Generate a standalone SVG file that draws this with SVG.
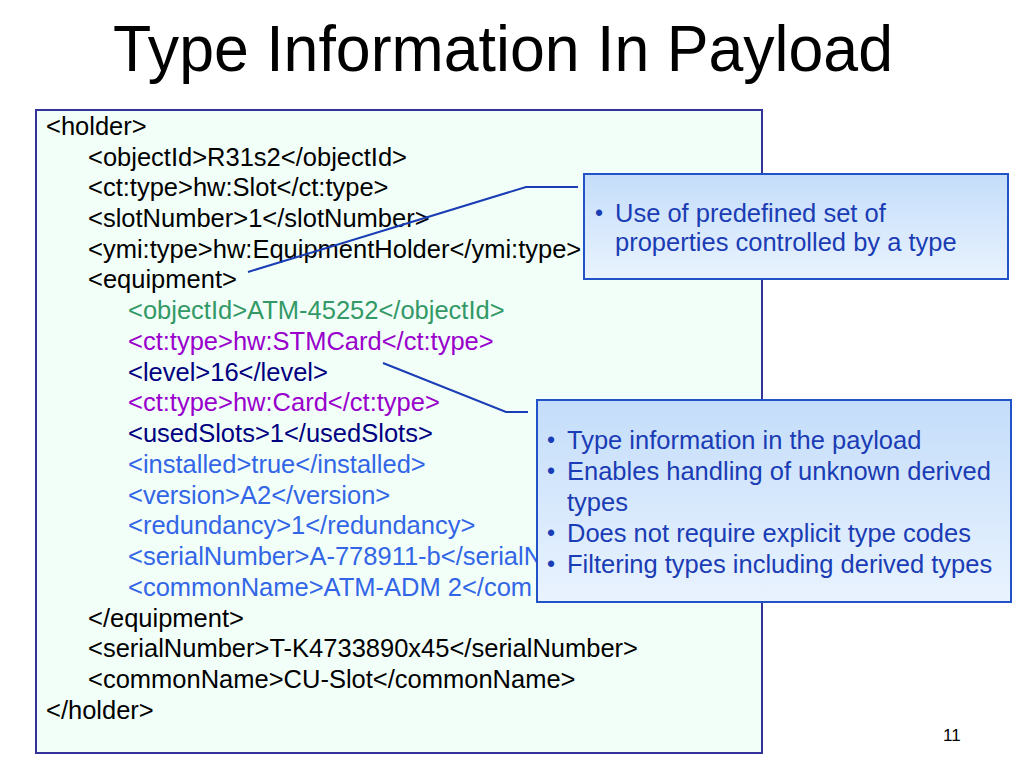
<svg xmlns="http://www.w3.org/2000/svg" width="1024" height="768" viewBox="0 0 1024 768">
  <defs>
    <linearGradient id="calloutFill" x1="0" y1="0" x2="0" y2="1">
      <stop offset="0" stop-color="#c4ddfa"/>
      <stop offset="1" stop-color="#e9f3fe"/>
    </linearGradient>
    <clipPath id="codeClip">
      <rect x="36" y="110" width="501" height="643"/>
    </clipPath>
    <style>
      .code { font-family: "Liberation Sans", Arial, sans-serif; font-size: 25.5px; fill: #000000; }
      .green { fill: #339966; }
      .purple { fill: #9900cc; }
      .navy { fill: #000080; }
      .blue { fill: #3366e6; }
      .callout { fill: url(#calloutFill); stroke: #2152c8; stroke-width: 2; }
      .ctext { font-family: "Liberation Sans", Arial, sans-serif; font-size: 25.5px; fill: #1a3cb4; }
      .bullet { font-family: "Liberation Sans", Arial, sans-serif; font-size: 23px; fill: #1a3cb4; }
      .conn { fill: none; stroke: #1a3cb4; stroke-width: 2; }
    </style>
  </defs>
  <rect width="1024" height="768" fill="#ffffff"/>

  <text x="113" y="71" font-family="'Liberation Sans', Arial, sans-serif" font-size="64" textLength="780" lengthAdjust="spacingAndGlyphs" fill="#000000">Type Information In Payload</text>

  <g id="payload">
    <rect x="36" y="110" width="726" height="643" fill="#f2fff9" stroke="#333399" stroke-width="2"/>
    <text class="code" x="46" y="135">&lt;holder&gt;</text>
    <text class="code" x="88" y="166">&lt;objectId&gt;R31s2&lt;/objectId&gt;</text>
    <text class="code" x="88" y="196">&lt;ct:type&gt;hw:Slot&lt;/ct:type&gt;</text>
    <text class="code" x="88" y="227">&lt;slotNumber&gt;1&lt;/slotNumber&gt;</text>
    <text class="code" x="88" y="258">&lt;ymi:type&gt;hw:EquipmentHolder&lt;/ymi:type&gt;</text>
    <text class="code" x="88" y="288">&lt;equipment&gt;</text>
    <text class="code green" x="128" y="319">&lt;objectId&gt;ATM-45252&lt;/objectId&gt;</text>
    <text class="code purple" x="128" y="350">&lt;ct:type&gt;hw:STMCard&lt;/ct:type&gt;</text>
    <text class="code navy" x="128" y="381">&lt;level&gt;16&lt;/level&gt;</text>
    <text class="code purple" x="128" y="411">&lt;ct:type&gt;hw:Card&lt;/ct:type&gt;</text>
    <text class="code navy" x="128" y="442">&lt;usedSlots&gt;1&lt;/usedSlots&gt;</text>
    <text class="code blue" x="128" y="473">&lt;installed&gt;true&lt;/installed&gt;</text>
    <text class="code blue" x="128" y="504">&lt;version&gt;A2&lt;/version&gt;</text>
    <text class="code blue" x="128" y="534">&lt;redundancy&gt;1&lt;/redundancy&gt;</text>
    <g clip-path="url(#codeClip)">
      <text class="code blue" x="128" y="565">&lt;serialNumber&gt;A-778911-b&lt;/serialN</text>
      <text class="code blue" x="128" y="596">&lt;commonName&gt;ATM-ADM 2&lt;/com</text>
    </g>
    <text class="code" x="88" y="627">&lt;/equipment&gt;</text>
    <text class="code" x="88" y="657">&lt;serialNumber&gt;T-K4733890x45&lt;/serialNumber&gt;</text>
    <text class="code" x="88" y="688">&lt;commonName&gt;CU-Slot&lt;/commonName&gt;</text>
    <text class="code" x="46" y="719">&lt;/holder&gt;</text>
  </g>

  <g id="connectors">
    <polyline class="conn" points="248,272 526,187 578,187"/>
    <polyline class="conn" points="383,363 506,412 528,412"/>
  </g>

  <g id="callout-predefined">
    <rect class="callout" x="584" y="174" width="424" height="105"/>
    <text class="bullet" x="595" y="221">•</text>
    <text class="ctext" x="615" y="222">Use of predefined set of</text>
    <text class="ctext" x="615" y="251">properties controlled by a type</text>
  </g>

  <g id="callout-payload">
    <rect class="callout" x="537" y="400" width="474" height="202"/>
    <text class="bullet" x="547" y="448">•</text>
    <text class="ctext" x="567" y="449">Type information in the payload</text>
    <text class="bullet" x="547" y="479">•</text>
    <text class="ctext" x="567" y="480">Enables handling of unknown derived</text>
    <text class="ctext" x="567" y="511">types</text>
    <text class="bullet" x="547" y="541">•</text>
    <text class="ctext" x="567" y="542">Does not require explicit type codes</text>
    <text class="bullet" x="547" y="572">•</text>
    <text class="ctext" x="567" y="573">Filtering types including derived types</text>
  </g>

  <text x="943" y="741" font-family="'Liberation Sans', Arial, sans-serif" font-size="17" fill="#000000">11</text>
</svg>
